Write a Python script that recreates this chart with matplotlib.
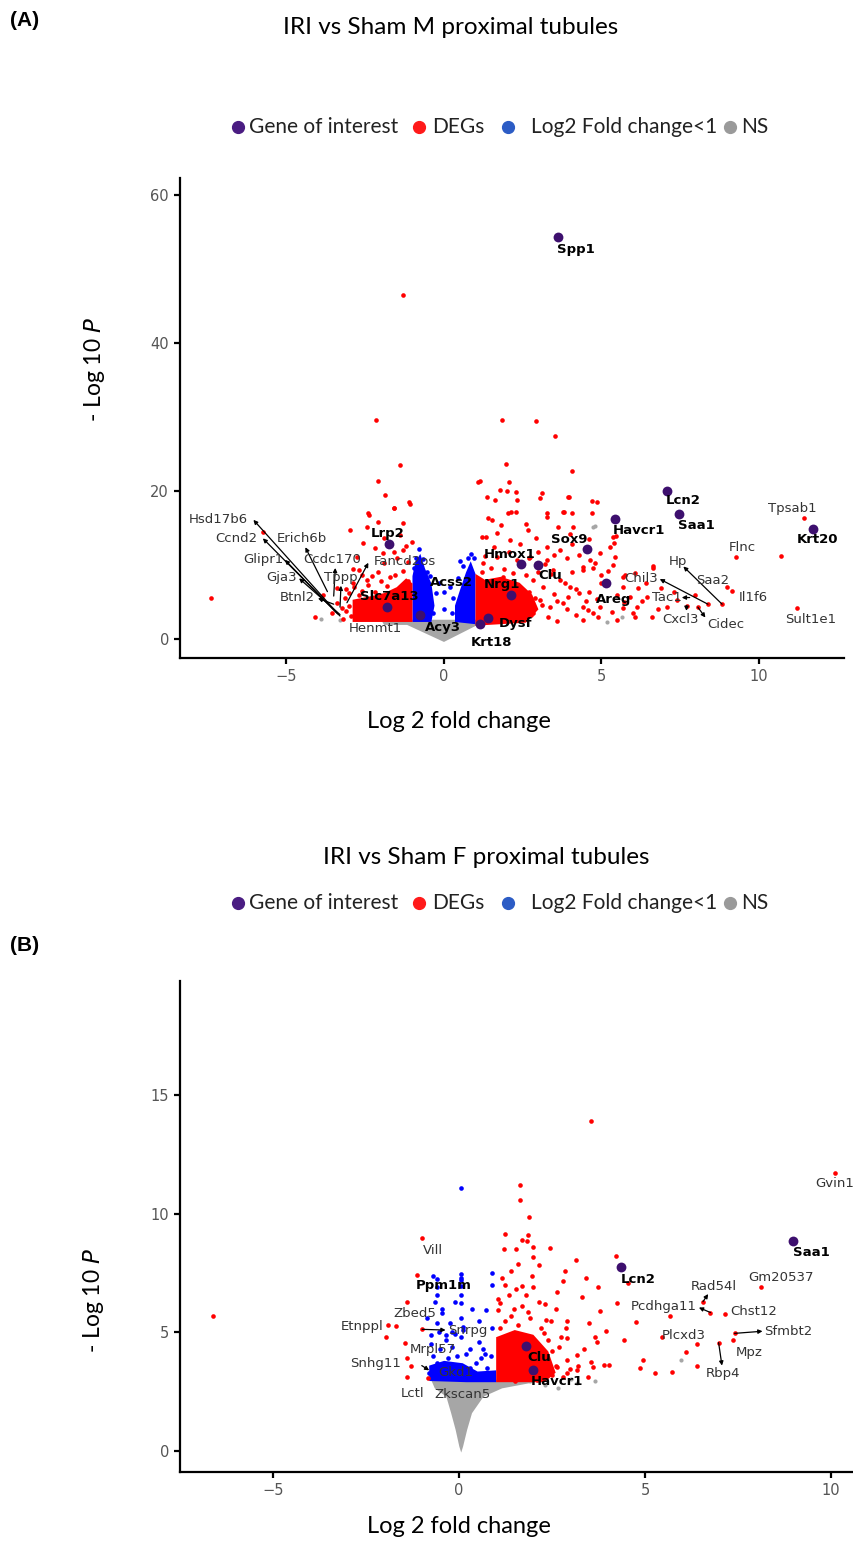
import matplotlib.pyplot as plt
from matplotlib.lines import Line2D

# ---------------- panel A : IRI vs Sham M ----------------
a_goi_x = [3.62, 7.07, 7.46, 5.42, 11.7, 4.53, 2.43, 2.98, 5.16, 2.14, -1.75, -1.81, -0.76, 1.40, 1.14]
a_goi_y = [54.3, 20.0, 16.9, 16.2, 14.9, 12.1, 10.2, 10.0, 7.6, 6.0, 12.9, 4.35, 3.2, 2.8, 2.0]

a_red_x = [-1.30, -2.15, -1.38, -2.09, -1.87, -1.6, -1.1, -2.4, -2.98, -7.4, 1.83, 2.92, 3.53, 4.08,
           1.97, 1.13, 2.06, 2.0, 2.3, 1.61, 3.06, 3.98, 4.7, 4.86, 2.12, 2.3, 3.82, 3.28, 1.39, 1.32,
           2.92, 4.08, 5.46, 6.63, 5.76, 9.14, 10.7, 11.43, 11.2, 9.27,
           -5.75, -4.1, -2.38, -2.1, -1.6, -1.3, -1.08, -1.4, -1.0, -2.57, -2.7, -2.9, -1.9, -1.7,
           -1.3, -2.45, -3.0, -3.25, -3.4, -3.55, -3.83, -2.77, -1.93, -2.45,
           1.08, 1.37, 1.78, 2.03, 1.52, 1.21, 1.68, 2.1, 2.67, 2.32, 3.11, 3.27, 3.94, 3.78, 4.06,
           3.62, 4.1, 3.27, 3.9, 4.41, 4.7, 3.46, 3.68, 3.14, 2.83, 4.0, 4.3, 4.41, 3.78, 3.37, 3.05,
           4.73, 2.83, 2.5, 1.68, 1.24, 1.87, 2.32, 2.73, 3.27, 3.68,
           5.36, 5.4, 5.27, 4.95, 5.43, 4.63, 4.4, 4.73, 5.0, 5.37, 5.68, 6.06, 6.64, 5.68, 6.16,
           5.49, 5.9, 6.44, 6.13, 5.68, 4.95, 5.33, 4.57, 7.08, 6.6, 6.06, 7.4, 7.97, 8.06, 7.7,
           8.38, 8.83, 8.98,
           -3.1, -2.85, -2.6, -2.4, -2.2, -2.0, -1.8, -1.55, -1.3, -1.15, -1.5, -2.1, -2.3, -2.6,
           -2.9, -3.15, -3.0, -3.1, -2.95, -3.2, -1.2, -1.9, -1.6, -2.2, -1.4, -2.7, -3.4, -1.15,
           2.7, 2.9, 3.1, 2.75, 3.3, 3.5, 3.6, 3.9, 3.95, 4.2, 4.5, 4.6, 4.85, 4.2, 3.85, 3.4,
           3.0, 2.6, 2.2, 1.9, 1.5, 1.2, 2.05, 1.6, 2.4, 3.0, 3.5, 4.3, 4.6, 4.0, 2.6, 1.8, 5.0,
           5.2, 4.9, 5.7, 6.3, 6.8, 6.0, 5.5, 3.6, 4.4, 4.05, 3.2, 2.7, 1.3, 4.8, 6.4, 6.9, 7.3]
a_red_y = [46.5, 29.6, 23.5, 21.3, 19.5, 17.7, 18.5, 17.0, 14.7, 5.5, 29.6, 29.4, 27.4, 22.7,
           23.6, 21.4, 21.2, 20.0, 19.9, 18.8, 19.1, 19.2, 18.6, 18.5, 17.1, 17.2, 17.2, 16.5, 16.3, 13.8,
           13.6, 12.9, 13.9, 9.8, 8.6, 6.5, 11.2, 16.3, 4.2, 11.1,
           14.4, 3.0, 16.7, 15.8, 17.7, 15.7, 18.2, 14.1, 13.1, 13.0, 9.3, 7.6, 10.3, 8.4,
           12.0, 8.0, 6.2, 4.2, 4.9, 3.5, 5.9, 11.1, 11.6, 15.1,
           21.2, 19.2, 20.1, 17.0, 16.1, 13.8, 14.3, 13.4, 14.7, 18.8, 19.7, 17.0, 19.2, 17.2, 17.0,
           15.1, 15.1, 12.4, 10.9, 9.7, 17.0, 9.3, 8.0, 7.0, 8.0, 7.0, 6.2, 4.3, 4.9, 4.3, 5.3,
           3.5, 3.5, 6.6, 11.1, 10.3, 8.4, 10.7, 11.1, 10.7, 12.0,
           13.8, 13.0, 12.4, 11.6, 11.1, 10.7, 9.3, 9.6, 8.6, 10.0, 8.4, 8.9, 9.6, 7.0, 6.9,
           5.9, 5.7, 5.7, 4.3, 4.2, 4.3, 3.7, 3.9, 4.3, 3.0, 3.0, 5.3, 5.9, 4.3, 4.5,
           4.7, 4.7, 7.0,
           6.8, 7.0, 6.5, 7.3, 6.4, 7.8, 7.1, 8.6, 9.2, 10.4, 10.9, 9.0, 8.5, 8.6,
           9.4, 5.6, 4.5, 3.8, 3.1, 2.7, 12.6, 13.7, 11.8, 12.3, 6.2, 6.0, 6.9, 7.8,
           6.4, 5.5, 4.6, 3.3, 3.0, 6.1, 5.2, 4.1, 5.7, 3.3, 5.1, 6.3, 5.4, 6.7, 7.6, 8.8,
           9.0, 8.6, 8.9, 9.4, 9.6, 9.0, 11.7, 12.4, 12.9, 11.7, 11.3, 11.4, 13.5, 14.2, 15.5, 15.4, 7.5,
           9.2, 3.0, 5.0, 5.2, 4.0, 3.5, 2.6, 2.4, 2.5, 9.1, 10.2, 10.9, 11.2, 10.3, 7.6, 6.9, 6.3]
a_blue_x = [-0.9, -0.8, -0.65, -0.55, -0.45, -0.95, -0.35, -0.25, -0.15, -0.7, -0.85, -0.5,
            0.85, 0.95, 0.6, 0.45, 0.3, 0.25, 0.2, 0.75, 0.0, 0.0, 0.5, 0.4, 0.65]
a_blue_y = [11.0, 12.1, 10.8, 9.0, 8.5, 9.6, 3.5, 6.2, 7.6, 7.7, 5.5, 4.8,
            11.5, 10.9, 9.8, 8.3, 5.5, 3.5, 7.0, 11.0, 6.3, 4.1, 10.6, 3.0, 5.0]
a_ns_x = [-3.9, -3.3, 4.73, 4.79, 5.17, 5.65]
a_ns_y = [2.7, 2.6, 15.1, 15.3, 2.3, 3.0]

# dense cores (outline)
a_core_ns_x = [-2.0, -1.9, -1.17, 0.0, 1.16, 2.0, 2.0]
a_core_ns_y = [2.6, 1.9, 1.9, -0.4, 2.1, 2.2, 2.6]
a_core_red_left_x = [-2.9, -1.0, -1.0, -1.2, -1.5, -1.9, -2.3, -2.9]
a_core_red_left_y = [2.3, 2.3, 7.5, 8.2, 7.0, 6.2, 5.8, 5.3]
a_core_blue_left_x = [-1.0, -0.4, -0.3, -0.4, -0.6, -0.75, -0.9, -1.0]
a_core_blue_left_y = [2.3, 2.3, 4.5, 7.5, 9.5, 11.5, 10.5, 8.5]
a_core_blue_right_x = [0.35, 1.0, 1.0, 0.85, 0.7, 0.5, 0.35]
a_core_blue_right_y = [2.3, 2.0, 8.8, 10.5, 9.0, 6.5, 4.5]
a_core_red_right_x = [1.0, 2.6, 3.0, 2.8, 2.4, 1.8, 1.3, 1.0]
a_core_red_right_y = [1.8, 2.2, 4.0, 6.0, 7.6, 8.4, 8.0, 8.8]

# labels: gene, point x, point y, label x, label y, bold
a_labels = [
    ("Spp1", 3.62, 54.3, 4.19, 52.7, True), ("Lcn2", 7.07, 20.0, 7.58, 18.7, True),
    ("Saa1", 7.46, 16.9, 8.01, 15.4, True), ("Havcr1", 5.42, 16.2, 6.19, 14.7, True),
    ("Krt20", 11.7, 14.9, 11.87, 13.5, True), ("Sox9", 4.53, 12.1, 3.97, 13.5, True),
    ("Hmox1", 2.43, 10.2, 2.09, 11.4, True), ("Clu", 2.98, 10.0, 3.36, 8.6, True),
    ("Lrp2", -1.75, 12.9, -1.78, 14.2, True), ("Nrg1", 2.14, 6.0, 1.83, 7.3, True),
    ("Slc7a13", -1.81, 4.35, -1.74, 5.7, True), ("Areg", 5.16, 7.6, 5.39, 5.3, True),
    ("Acy3", -0.76, 3.2, -0.02, 1.6, True), ("Dysf", 1.40, 2.8, 2.26, 2.1, True),
    ("Krt18", 1.14, 2.0, 1.51, -0.45, True), ("Acss2", -0.6, 7.6, 0.23, 7.6, True),
    ("Tpsab1", 11.43, 16.3, 11.07, 17.6, False), ("Flnc", 9.27, 11.1, 9.47, 12.4, False),
    ("Sult1e1", 11.2, 4.2, 11.65, 2.7, False), ("Il1f6", 9.14, 6.5, 9.83, 5.6, False),
    ("Saa2", 8.98, 7.0, 8.52, 7.9, False), ("Henmt1", -1.6, 2.6, -2.18, 1.4, False),
]
a_arrows = [
    ("Hsd17b6", -3.3, 3.1, -7.17, 16.2, -6.05, 16.1), ("Ccnd2", -3.35, 3.3, -6.59, 13.6, -5.75, 13.6),
    ("Glipr1", -3.4, 3.5, -5.74, 10.8, -5.05, 10.7), ("Gja3", -3.3, 3.3, -5.16, 8.3, -4.6, 8.2),
    ("Btnl2", -3.5, 4.7, -4.65, 5.6, -4.0, 5.5), ("Erich6b", -3.7, 6.4, -4.5, 13.6, -4.4, 12.4),
    ("Ccdc170", -3.5, 5.8, -3.56, 10.8, -3.45, 9.6), ("Tppp", -3.3, 4.3, -3.27, 8.3, -3.27, 7.2),
    ("Fancd2os", -3.08, 4.9, -1.23, 10.5, -2.4, 10.3),
    ("Hp", 8.83, 4.7, 7.43, 10.5, 7.6, 9.8), ("Chil3", 8.38, 4.7, 6.27, 8.2, 6.85, 8.1),
    ("Tac1", 7.8, 5.6, 7.07, 5.6, 7.55, 5.6), ("Cxcl3", 7.7, 4.5, 7.5, 2.6, 7.7, 3.8),
    ("Cidec", 8.06, 4.3, 8.96, 2.0, 8.3, 2.9),
]

# ---------------- panel B : IRI vs Sham F ----------------
b_goi_x = [8.98, 4.35, 1.80, 1.98]
b_goi_y = [8.87, 7.75, 4.43, 3.42]

b_red_x = [-6.61, 3.56, 10.1, -0.99, -1.13, -1.4, -1.9, -1.7, -1.96, -1.46, -0.99, -1.4, -1.28, -1.4,
           -0.84, 4.22, 4.54, 4.26, 4.76, 4.44, 4.96, 4.88, 5.26, 5.72, 5.66, 5.47, 6.1, 6.39, 6.39,
           6.56, 6.76, 7.14, 6.98, 7.38, 7.41, 8.13,
           1.64, 1.64, 1.89, 1.23, 1.7, 1.82, 1.85, 1.2, 1.54, 1.98, 2.45, 1.98, 2.16, 1.41, 2.85,
           3.14, 3.41, 2.81, 1.24, 1.69, 2.64, 1.54, 1.8, 2.14, 1.1, 1.47, 1.85, 1.04, 3.79, 2.35,
           2.48, 2.91, 3.5, 2.89, 3.94, 2.29, 3.66, 2.91, 2.69, 3.35, 3.16, 3.54, 4.04, 3.91, 3.6,
           2.98, 3.16, 3.48, 2.79, 2.91, 2.35, 2.64,
           1.1, 1.25, 1.4, 1.6, 1.9, 2.2, 2.4, 2.5, 2.6, 2.5, 1.05, 1.35, 1.7, 2.0, 2.3, 1.15,
           1.6, 1.95, 2.6, 2.75, 2.1, 1.5, 2.9, 3.2, 3.7, 3.3, 3.75]
b_red_y = [5.71, 13.94, 11.74, 8.97, 7.43, 6.3, 5.3, 5.27, 4.8, 4.57, 5.13, 3.9, 3.59, 3.1,
           3.07, 8.23, 7.1, 6.26, 5.46, 4.66, 3.84, 3.49, 3.28, 3.31, 5.71, 4.8, 4.19, 4.51, 3.6,
           6.3, 5.84, 5.77, 4.57, 4.66, 4.96, 6.93,
           11.22, 10.59, 9.86, 9.16, 8.9, 8.85, 9.1, 8.5, 8.5, 8.6, 8.55, 8.17, 7.85, 7.6, 7.6,
           8.06, 7.29, 7.19, 7.0, 6.96, 6.72, 6.82, 6.56, 6.3, 6.26, 6.0, 5.88, 5.95, 5.9, 5.53,
           5.5, 5.5, 5.41, 5.18, 5.04, 4.96, 4.82, 4.75, 4.4, 4.29, 4.05, 3.77, 3.63, 3.63, 3.56,
           3.45, 3.42, 3.14, 3.14, 3.84, 3.84, 3.56,
           5.2, 5.5, 5.7, 5.3, 5.6, 5.2, 4.7, 4.2, 3.6, 3.2, 6.4, 6.6, 6.1, 6.9, 6.2, 7.3,
           7.9, 7.4, 6.0, 4.8, 3.0, 2.95, 3.3, 3.6, 4.6, 6.5, 6.9]
b_blue_x = [0.06, 0.89, 0.89, 0.06, 0.06, 0.06, -0.59, -0.59, 0.06, 0.06, 0.72, -0.59, 0.06, 0.1,
            0.1, -0.75, -0.35, -0.2, 0.55, 0.7, -0.45, -0.1, 0.3,
            -0.75, -0.7, -0.6, -0.55, -0.5, -0.45, -0.4, -0.35, -0.3, -0.25, -0.2, -0.15, -0.1,
            -0.05, 0.0, 0.05, 0.12, 0.2, 0.3, 0.45, 0.6, 0.65, 0.75, 0.85, 0.9, 0.55, -0.65, -0.8,
            -0.85, 0.35, -0.7, -0.6, 0.05]
b_blue_y = [11.08, 7.5, 7.0, 7.3, 7.2, 6.95, 7.24, 6.58, 6.6, 6.25, 5.95, 5.39, 5.6, 5.25,
            5.1, 4.9, 4.7, 5.0, 4.6, 4.1, 6.0, 4.95, 4.3,
            4.5, 4.0, 3.7, 5.0, 4.3, 5.8, 3.4, 4.9, 3.9, 5.4, 4.4, 3.3, 6.3,
            4.0, 3.6, 4.8, 3.3, 4.1, 3.5, 3.7, 3.9, 4.3, 3.5, 4.0, 5.2, 5.5, 6.3, 3.3,
            5.6, 6.0, 7.4, 6.9, 7.45]
b_ns_x = [5.98, 3.66, 3.16, 2.66, 2.3, 3.0, 1.9]
b_ns_y = [3.84, 2.93, 2.86, 2.64, 2.8, 3.05, 2.95]

b_core_ns_x = [-0.75, -0.71, -0.65, -0.34, -0.21, -0.09, 0.01, 0.06, 0.11, 0.22, 0.35, 0.66, 1.16, 1.91, 2.2]
b_core_ns_y = [3.0, 2.86, 2.64, 2.29, 1.59, 0.89, 0.18, -0.07, 0.18, 0.89, 1.59, 2.29, 2.64, 2.86, 3.0]
b_core_blue_x = [-0.8, 0.2, 0.55, 1.0, 1.0, 0.5, 0.1, -0.4, -0.8]
b_core_blue_y = [2.95, 2.9, 2.9, 2.9, 3.4, 3.35, 3.7, 3.8, 3.6]
b_core_red_x = [1.0, 2.3, 2.6, 2.4, 2.0, 1.5, 1.0]
b_core_red_y = [2.9, 2.9, 3.3, 4.2, 4.9, 5.1, 4.8]

b_labels = [
    ("Saa1", 8.98, 8.87, 9.48, 8.37, True), ("Lcn2", 4.35, 7.75, 4.81, 7.24, True),
    ("Clu", 1.80, 4.43, 2.16, 3.94, True), ("Havcr1", 1.98, 3.42, 2.64, 2.95, True),
    ("Ppm1m", -1.13, 7.43, -0.4, 6.96, True), ("Gvin1", 10.1, 11.74, 10.1, 11.27, False),
    ("Gm20537", 8.13, 6.93, 8.66, 7.33, False), ("Chst12", 7.14, 5.77, 7.91, 5.88, False),
    ("Plcxd3", 5.47, 4.8, 6.04, 4.85, False), ("Mpz", 7.38, 4.66, 7.79, 4.15, False),
    ("Vill", -0.99, 8.97, -0.71, 8.45, False), ("Zbed5", -1.4, 6.3, -1.19, 5.81, False),
    ("Etnppl", -1.9, 5.3, -2.61, 5.25, False), ("Mrpl57", -0.9, 3.9, -0.71, 4.26, False),
    ("Snhg11", -1.4, 3.9, -2.25, 3.67, False), ("Lctl", -1.28, 3.1, -1.25, 2.43, False),
    ("Zkscan5", 0.1, 3.0, 0.1, 2.39, False),
]
b_arrows = [
    ("Rad54l", 6.56, 6.3, 6.85, 6.93, 6.7, 6.62), ("Pcdhga11", 6.76, 5.84, 5.51, 6.09, 6.45, 6.05),
    ("Sfmbt2", 7.41, 4.96, 8.85, 5.04, 8.16, 5.05), ("Rbp4", 6.98, 4.57, 7.1, 3.28, 7.07, 3.6),
    ("Snrpg", -0.99, 5.13, 0.25, 5.08, -0.36, 5.1), ("Gkd1", -1.0, 3.6, -0.09, 3.3, -0.8, 3.4),
]

legend_names = ["Gene of interest", "DEGs", "Log2 Fold change<1", "NS"]
legend_colors = ["#4a1c82", "#ff1a1a", "#2c5cc5", "#9a9a9a"]

PURPLE = "#3d0f6e"
RED = "#ff0000"
BLUE = "#0000ff"
GREY = "#a6a6a6"
TICK_GREY = "#555555"
LABEL_FONT = ["Lato", "DejaVu Sans"]


def style_axes(ax):
    for side in ["top", "right"]:
        ax.spines[side].set_visible(False)
    for side in ["left", "bottom"]:
        ax.spines[side].set_linewidth(1.6)
    ax.tick_params(length=4.5, width=1.6, colors="black", labelcolor=TICK_GREY, labelsize=10.5)
    ax.set_ylabel("- Log 10 $\\it{P}$", fontsize=16.5, family=LABEL_FONT)
    ax.set_xlabel("Log 2 fold change", fontsize=17, family=LABEL_FONT)


def draw_volcano(ax, cores, red, blue, ns, goi, labels, arrows):
    ns_core, blue_cores, red_cores = cores
    ax.fill(ns_core[0], ns_core[1], color=GREY, lw=0, zorder=1)
    for bx, by in blue_cores:
        ax.fill(bx, by, color=BLUE, lw=0, zorder=2)
    for rx, ry in red_cores:
        ax.fill(rx, ry, color=RED, lw=0, zorder=3)
    ax.scatter(ns[0], ns[1], s=9, color=GREY, lw=0, zorder=2)
    ax.scatter(blue[0], blue[1], s=11, color=BLUE, lw=0, zorder=3)
    ax.scatter(red[0], red[1], s=11, color=RED, lw=0, zorder=4)
    ax.scatter(goi[0], goi[1], s=50, color=PURPLE, lw=0, zorder=5)
    for name, px, py, lx, ly, bold in labels:
        ax.text(lx, ly, name, fontsize=9.5, ha="center", va="center",
                fontweight="bold" if bold else "normal",
                color="black" if bold else "#333333", zorder=7, clip_on=False)
    for name, px, py, lx, ly, ax2, ay2 in arrows:
        ax.text(lx, ly, name, fontsize=9.5, ha="center", va="center", color="#333333", zorder=7)
        ax.annotate("", xy=(ax2, ay2), xytext=(px, py),
                    arrowprops=dict(arrowstyle="-|>", color="black", lw=0.9,
                                    mutation_scale=6, shrinkA=0, shrinkB=0), zorder=6)


def draw_legend(fig, y):
    dot_x = [238, 419, 508, 730]
    text_x = [249, 432, 531, 741]
    for i in range(4):
        fig.add_artist(Line2D([dot_x[i] / 854], [y], transform=fig.transFigure, marker="o",
                              markersize=8.5, color=legend_colors[i], lw=0))
        fig.text(text_x[i] / 854, y, legend_names[i], fontsize=15, va="center",
                 family=LABEL_FONT, color="#222222")


fig = plt.figure(figsize=(8.54, 15.43), dpi=100)
H = 1543.0

# panel A
axA = fig.add_axes([180 / 854, 1 - 658 / H, 664 / 854, 480 / H])
draw_volcano(axA,
             ((a_core_ns_x, a_core_ns_y),
              [(a_core_blue_left_x, a_core_blue_left_y), (a_core_blue_right_x, a_core_blue_right_y)],
              [(a_core_red_left_x, a_core_red_left_y), (a_core_red_right_x, a_core_red_right_y)]),
             (a_red_x, a_red_y), (a_blue_x, a_blue_y), (a_ns_x, a_ns_y), (a_goi_x, a_goi_y),
             a_labels, a_arrows)
axA.set_xlim(-8.38, 12.7)
axA.set_ylim(-2.57, 62.3)
axA.set_xticks([-5, 0, 5, 10])
axA.set_yticks([0, 20, 40, 60])
style_axes(axA)
axA.yaxis.set_label_coords(-0.11, 0.6)
axA.xaxis.set_label_coords(0.42, -0.11)

# panel B
axB = fig.add_axes([180 / 854, 1 - 1472 / H, 674 / 854, 491 / H])
draw_volcano(axB,
             ((b_core_ns_x, b_core_ns_y),
              [(b_core_blue_x, b_core_blue_y)],
              [(b_core_red_x, b_core_red_y)]),
             (b_red_x, b_red_y), (b_blue_x, b_blue_y), (b_ns_x, b_ns_y), (b_goi_x, b_goi_y),
             b_labels, b_arrows)
axB.set_xlim(-7.5, 10.62)
axB.set_ylim(-0.89, 19.83)
axB.set_xticks([-5, 0, 5, 10])
axB.set_yticks([0, 5, 10, 15])
style_axes(axB)
axB.yaxis.set_label_coords(-0.11, 0.35)
axB.xaxis.set_label_coords(0.414, -0.09)

# titles, panel letters, legends
fig.text(10 / 854, 1 - 20 / H, "(A)", fontsize=15, fontweight="bold", va="center",
         family="Liberation Sans")
fig.text(451 / 854, 1 - 28 / H, "IRI vs Sham M proximal tubules", fontsize=17.5, ha="center",
         va="center", family=LABEL_FONT)
draw_legend(fig, 1 - 127 / H)
fig.text(486 / 854, 1 - 858 / H, "IRI vs Sham F proximal tubules", fontsize=17.5, ha="center",
         va="center", family=LABEL_FONT)
draw_legend(fig, 1 - 903 / H)
fig.text(10 / 854, 1 - 945 / H, "(B)", fontsize=15, fontweight="bold", va="center",
         family="Liberation Sans")

fig.savefig("out.png", dpi=100)
